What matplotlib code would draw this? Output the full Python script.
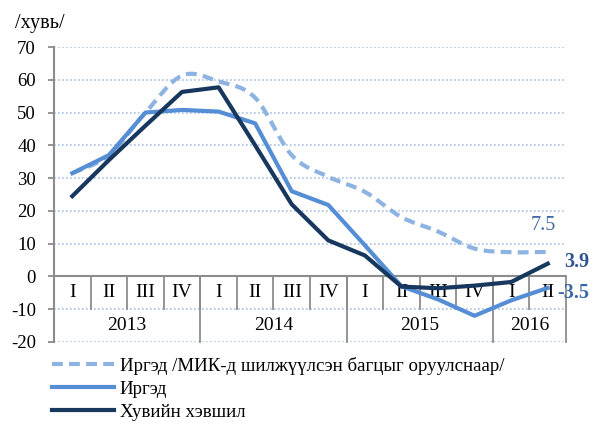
import numpy as np
import matplotlib
matplotlib.use('Agg')
import matplotlib.pyplot as plt
from matplotlib.path import Path
from matplotlib.patches import PathPatch
from matplotlib.lines import Line2D

plt.rcParams['font.family'] = ['Liberation Serif', 'DejaVu Serif']
plt.rcParams['axes.unicode_minus'] = False

# data (quarterly, %)
quarters = ['I', 'II', 'III', 'IV', 'I', 'II', 'III', 'IV',
            'I', 'II', 'III', 'IV', 'I', 'II']
years = ['2013', '2014', '2015', '2016']
year_len = [4, 4, 4, 2]

irged_mik = [31.5, 37.0, 50.0, 61.3, 59.5, 54.5, 37.0, 30.4,
             25.8, 18.1, 13.7, 8.5, 7.4, 7.5]
irged = [31.5, 37.0, 50.0, 50.8, 50.3, 46.7, 26.0, 21.8,
         9.5, -3.0, -7.0, -12.0, -7.3, -3.5]
huviin = [24.5, 35.5, 46.0, 56.3, 57.7, 40.0, 22.0, 11.0,
          6.4, -3.1, -3.6, -2.8, -1.7, 3.9]

lbl_mik = 'Иргэд /МИК-д шилжүүлсэн багцыг оруулснаар/'
lbl_irged = 'Иргэд'
lbl_huviin = 'Хувийн хэвшил'

c_mik = '#8DB3E2'
c_irged = '#558ED5'
c_huviin = '#17375E'
c_axis = '#8C8C8C'
c_grid = '#A9C2EA'


def smooth_path(xs, ys):
    # Excel-like smoothed line: Catmull-Rom converted to cubic bezier
    pts = np.column_stack([xs, ys])
    verts = [pts[0]]
    codes = [Path.MOVETO]
    n = len(pts)
    for i in range(n - 1):
        p0 = pts[max(i - 1, 0)]
        p1 = pts[i]
        p2 = pts[i + 1]
        p3 = pts[min(i + 2, n - 1)]
        verts += [p1 + (p2 - p0) / 6.0, p2 - (p3 - p1) / 6.0, p2]
        codes += [Path.CURVE4] * 3
    return Path(verts, codes)


fig = plt.figure(figsize=(5.93, 4.25), dpi=100)
ax = fig.add_axes([0.0911, 0.1953, 0.8634, 0.6941])

x = np.arange(len(quarters))

# grid
for v in range(-20, 80, 10):
    if v != 0:
        ax.axhline(v, color=c_grid, lw=1.2, ls=(0, (1, 1.4)), zorder=1)
ax.axhline(0, color=c_axis, lw=1.5, zorder=2)

# category separators
for k in range(len(quarters) - 1):
    ax.plot([k + 0.5, k + 0.5], [0, -10], color=c_axis, lw=1.3, zorder=2)
pos = -0.5
for yr, ln in zip(years, year_len):
    ax.text(pos + ln / 2.0, -15, yr, ha='center', va='center', fontsize=14)
    pos += ln
    ax.plot([pos, pos], [0, -20], color=c_axis, lw=1.3, zorder=2, clip_on=False)
for i, q in enumerate(quarters):
    ax.text(i, -5, q, ha='center', va='center', fontsize=14)

# lines
patch = PathPatch(smooth_path(x, irged_mik), fill=False, edgecolor=c_mik,
                  lw=3, ls=(0, (2.6, 1.5)), zorder=3)
ax.add_patch(patch)
ax.plot(x, irged, color=c_irged, lw=3, zorder=4, solid_joinstyle='round')
ax.plot(x, huviin, color=c_huviin, lw=3, zorder=5, solid_joinstyle='round')

# end labels
ax.text(x[-1] - 0.13, irged_mik[-1] + 8.1, '7.5', ha='center', va='center',
        fontsize=14.5, color='#3F6AA6')
ax.text(x[-1] + 0.45, huviin[-1] + 0.4, '3.9', ha='left', va='center',
        fontsize=14.5, fontweight='bold', color='#2E5591')
ax.text(x[-1] + 0.27, irged[-1] - 1.7, '-3.5', ha='left', va='center',
        fontsize=14.5, fontweight='bold', color='#3A68AC')

ax.set_xlim(-0.5, len(quarters) - 0.5)
ax.set_ylim(-20, 70)
ax.set_yticks(range(-20, 80, 10))
ax.set_xticks([])
for s in ['top', 'right', 'bottom']:
    ax.spines[s].set_visible(False)
ax.spines['left'].set_color(c_axis)
ax.spines['left'].set_linewidth(1.5)
ax.tick_params(axis='y', length=4, width=1.3, color=c_axis, labelsize=13.5, pad=9)

fig.text(0.025, 0.944, '/хувь/', fontsize=14.5, ha='left', va='center')

handles = [Line2D([], [], color=c_mik, lw=3, ls=(0, (2.6, 1.5))),
           Line2D([], [], color=c_irged, lw=3),
           Line2D([], [], color=c_huviin, lw=3)]
fig.legend(handles, [lbl_mik, lbl_irged, lbl_huviin], loc='upper left',
           bbox_to_anchor=(0.087, 0.16), frameon=False, fontsize=13.6,
           handlelength=3.3, handletextpad=0.3, labelspacing=0.3,
           borderaxespad=0, borderpad=0)

fig.savefig('out.png', dpi=100)
